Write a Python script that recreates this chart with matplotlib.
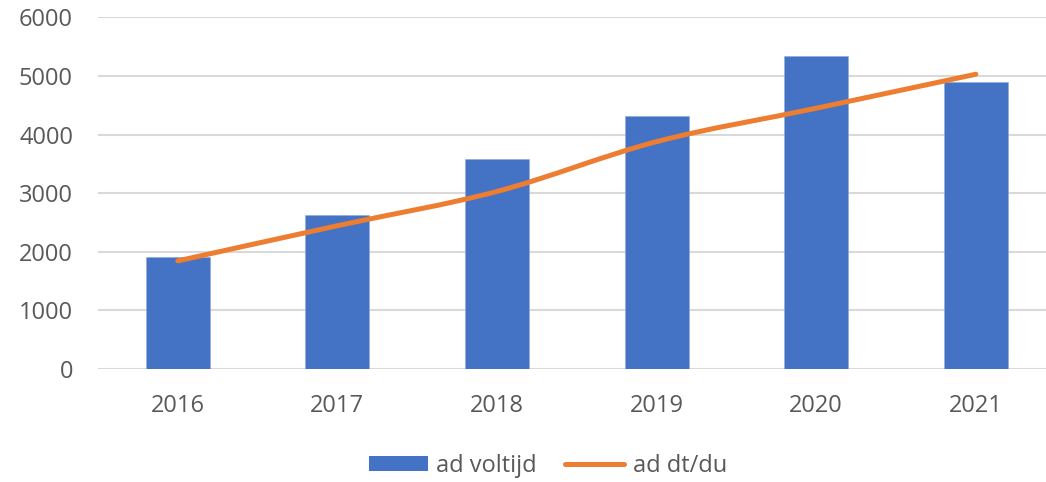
import matplotlib
matplotlib.use("Agg")
import matplotlib.pyplot as plt
from matplotlib.path import Path
from matplotlib.patches import PathPatch, Patch
from matplotlib.lines import Line2D
import numpy as np

years = ["2016", "2017", "2018", "2019", "2020", "2021"]
voltijd = [1910, 2630, 3580, 4320, 5345, 4895]
dtdu = [1845, 2445, 3030, 3880, 4450, 5030]
yticks = [0, 1000, 2000, 3000, 4000, 5000, 6000]

BLUE = "#4472C4"
ORANGE = "#ED7D31"
GRID = "#D9D9D9"
TXT = "#595959"

plt.rcParams['font.family'] = ['Open Sans', 'DejaVu Sans']

W, H = 1046, 482
fig = plt.figure(figsize=(W / 100, H / 100), dpi=100)
left = 98 / W
bottom = (H - 369) / H
top = (H - 17.4) / H
ax = fig.add_axes([left, bottom, 1 - left, top - bottom])

x = np.arange(len(years))
ax.bar(x, voltijd, width=0.4, color=BLUE, edgecolor="#8FAADC", linewidth=0.4, zorder=2)

# smoothed line (Catmull-Rom style Bezier through data points)
pts = np.column_stack([x, dtdu]).astype(float)
verts = [tuple(pts[0])]
codes = [Path.MOVETO]
n = len(pts)
for i in range(n - 1):
    p0 = pts[i - 1] if i > 0 else pts[i]
    p1 = pts[i]
    p2 = pts[i + 1]
    p3 = pts[i + 2] if i + 2 < n else pts[i + 1]
    c1 = p1 + (p2 - p0) / 6.0
    c2 = p2 - (p3 - p1) / 6.0
    verts += [tuple(c1), tuple(c2), tuple(p2)]
    codes += [Path.CURVE4] * 3
path = Path(verts, codes)
ax.add_patch(PathPatch(path, facecolor="none", edgecolor=ORANGE, lw=3.6,
                       capstyle="round", joinstyle="round", zorder=3))

ax.set_xlim(-0.5, -0.5 + (W - 98) / 159.6)
ax.set_ylim(0, 6000)
ax.set_yticks(yticks)
ax.set_xticks(x)
ax.set_xticklabels(years)
ax.yaxis.grid(True, color=GRID, lw=1.5, zorder=0)
ax.set_axisbelow(True)
for s in ax.spines.values():
    s.set_visible(False)
ax.tick_params(axis="both", length=0, labelsize=17, colors=TXT)
ax.tick_params(axis="y", pad=18)
ax.tick_params(axis="x", pad=18)

handles = [Patch(facecolor=BLUE, edgecolor="none"),
           Line2D([0], [0], color=ORANGE, lw=3.6, solid_capstyle="round")]
leg = fig.legend(handles, ["ad voltijd", "ad dt/du"], loc="center",
                 bbox_to_anchor=(548 / W, (H - 466) / H), ncol=2, frameon=False,
                 fontsize=17, handlelength=2.5, handleheight=0.6,
                 handletextpad=0.35, columnspacing=1.2, borderaxespad=0)
for t in leg.get_texts():
    t.set_color(TXT)

fig.savefig("out.png", dpi=100)
